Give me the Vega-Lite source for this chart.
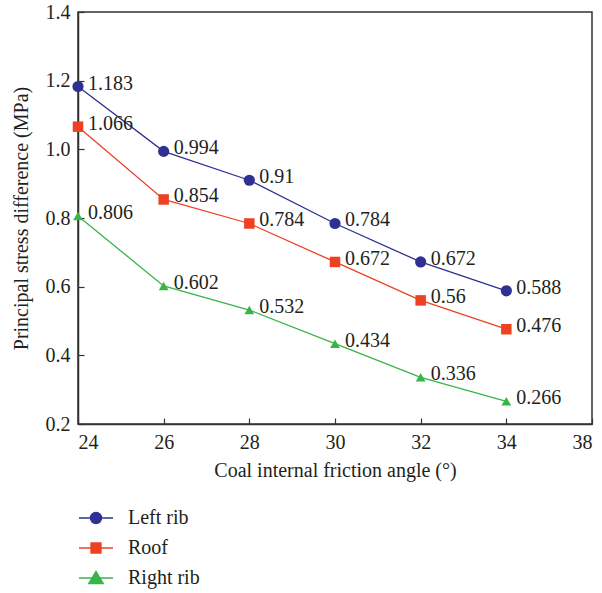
{
  "$schema": "https://vega.github.io/schema/vega-lite/v6.json",
  "width": 514,
  "height": 412,
  "autosize": {"type": "none"},
  "padding": {"left": 78, "top": 12, "right": 10, "bottom": 169},
  "background": "white",
  "config": {
    "font": "Liberation Serif",
    "view": {"stroke": "#333333", "strokeWidth": 1.5},
    "axis": {
      "grid": false,
      "domainColor": "#333333",
      "domainWidth": 1.5,
      "tickColor": "#333333",
      "tickWidth": 1.2,
      "tickSize": -6,
      "labelFont": "Liberation Serif",
      "labelFontSize": 20,
      "labelColor": "#231f20",
      "titleFont": "Liberation Serif",
      "titleFontSize": 20,
      "titleFontWeight": "normal",
      "titleColor": "#231f20"
    },
    "legend": {
      "labelFont": "Liberation Serif",
      "labelFontSize": 20,
      "labelColor": "#231f20"
    }
  },
  "data": {
    "values": [
      {"series": "Left rib", "angle": 24, "value": 1.183, "label": "1.183"},
      {"series": "Left rib", "angle": 26, "value": 0.994, "label": "0.994"},
      {"series": "Left rib", "angle": 28, "value": 0.91, "label": "0.91"},
      {"series": "Left rib", "angle": 30, "value": 0.784, "label": "0.784"},
      {"series": "Left rib", "angle": 32, "value": 0.672, "label": "0.672"},
      {"series": "Left rib", "angle": 34, "value": 0.588, "label": "0.588"},
      {"series": "Roof", "angle": 24, "value": 1.066, "label": "1.066"},
      {"series": "Roof", "angle": 26, "value": 0.854, "label": "0.854"},
      {"series": "Roof", "angle": 28, "value": 0.784, "label": "0.784"},
      {"series": "Roof", "angle": 30, "value": 0.672, "label": "0.672"},
      {"series": "Roof", "angle": 32, "value": 0.56, "label": "0.56"},
      {"series": "Roof", "angle": 34, "value": 0.476, "label": "0.476"},
      {"series": "Right rib", "angle": 24, "value": 0.806, "label": "0.806"},
      {"series": "Right rib", "angle": 26, "value": 0.602, "label": "0.602"},
      {"series": "Right rib", "angle": 28, "value": 0.532, "label": "0.532"},
      {"series": "Right rib", "angle": 30, "value": 0.434, "label": "0.434"},
      {"series": "Right rib", "angle": 32, "value": 0.336, "label": "0.336"},
      {"series": "Right rib", "angle": 34, "value": 0.266, "label": "0.266"}
    ]
  },
  "encoding": {
    "x": {
      "field": "angle",
      "type": "quantitative",
      "scale": {"domain": [24, 36], "nice": false, "zero": false},
      "axis": {
        "title": "Coal internal friction angle (°)",
        "values": [24, 26, 28, 30, 32, 34, 36],
        "labelExpr": "datum.value == 36 ? '38' : datum.label",
        "labelPadding": 14,
        "titlePadding": 8
      }
    },
    "y": {
      "field": "value",
      "type": "quantitative",
      "scale": {"domain": [0.2, 1.4], "nice": false, "zero": false},
      "axis": {
        "title": "Principal stress difference (MPa)",
        "values": [0.2, 0.4, 0.6, 0.8, 1.0, 1.2, 1.4],
        "format": ".1f",
        "labelPadding": 14,
        "titlePadding": 14
      }
    }
  },
  "resolve": {"scale": {"shape": "independent", "fill": "independent", "stroke": "independent", "size": "independent"}},
  "layer": [
    {
      "mark": {"type": "line", "strokeWidth": 1.3},
      "encoding": {
        "color": {
          "field": "series",
          "type": "nominal",
          "scale": {"domain": ["Left rib", "Roof", "Right rib"], "range": ["#2e3192", "#ee4023", "#38b449"]},
          "legend": null
        }
      }
    },
    {
      "mark": {"type": "point", "filled": true, "opacity": 1},
      "encoding": {
        "color": {
          "field": "series",
          "type": "nominal",
          "scale": {"domain": ["Left rib", "Roof", "Right rib"], "range": ["#2e3192", "#ee4023", "#38b449"]},
          "legend": null
        },
        "shape": {
          "field": "series",
          "type": "nominal",
          "scale": {"domain": ["Left rib", "Roof", "Right rib"], "range": ["circle", "square", "triangle-up"]},
          "legend": null
        },
        "size": {
          "field": "series",
          "type": "nominal",
          "scale": {"domain": ["Left rib", "Roof", "Right rib"], "range": [125, 95, 175]},
          "legend": null
        }
      }
    },
    {
      "mark": {"type": "text", "align": "left", "baseline": "middle", "dx": 10, "dy": -3, "fontSize": 20, "font": "Liberation Serif", "color": "#231f20"},
      "encoding": {
        "text": {"field": "label", "type": "nominal"}
      }
    },
    {
      "transform": [{"filter": "false"}],
      "mark": {"type": "point", "filled": true, "opacity": 1, "size": 1156, "strokeWidth": 1.5},
      "encoding": {
        "fill": {
          "field": "series",
          "type": "nominal",
          "scale": {"domain": ["Left rib", "Roof", "Right rib"], "range": ["#2e3192", "#ee4023", "#38b449"]},
          "legend": {"title": null, "orient": "none", "legendX": 0, "legendY": 491, "symbolSize": 1156, "symbolStrokeWidth": 1.5, "labelOffset": 14, "clipHeight": 30, "rowPadding": 0, "padding": 0}
        },
        "stroke": {
          "field": "series",
          "type": "nominal",
          "scale": {"domain": ["Left rib", "Roof", "Right rib"], "range": ["#2e3192", "#ee4023", "#38b449"]},
          "legend": {"title": null, "orient": "none", "legendX": 0, "legendY": 491, "symbolSize": 1156, "symbolStrokeWidth": 1.5, "labelOffset": 14, "clipHeight": 30, "rowPadding": 0, "padding": 0}
        },
        "shape": {
          "field": "series",
          "type": "nominal",
          "scale": {
            "domain": ["Left rib", "Roof", "Right rib"],
            "range": [
              "M-1,0L1,0M0.32,0A0.32,0.32,0,1,1,-0.32,0A0.32,0.32,0,1,1,0.32,0Z",
              "M-1,0L1,0M-0.29,-0.29L0.29,-0.29L0.29,0.29L-0.29,0.29Z",
              "M-1,0L1,0M0,-0.38L0.42,0.33L-0.42,0.33Z"
            ]
          },
          "legend": {"title": null, "orient": "none", "legendX": 0, "legendY": 491, "symbolSize": 1156, "symbolStrokeWidth": 1.5, "labelOffset": 14, "clipHeight": 30, "rowPadding": 0, "padding": 0}
        }
      }
    }
  ]
}
